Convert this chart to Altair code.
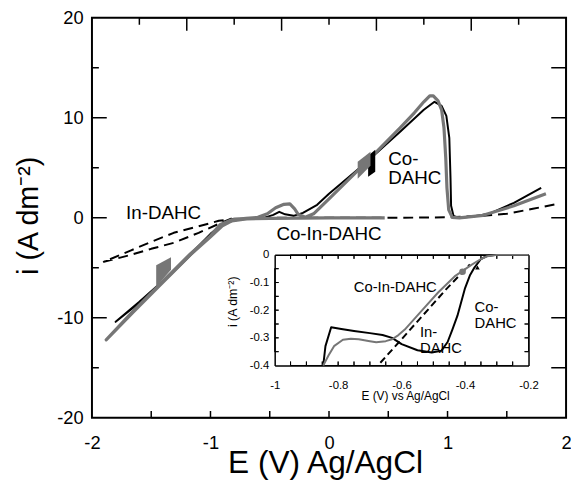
import altair as alt
import pandas as pd

FONT = "Liberation Sans"
W, H = 480, 405
GREY = "#767676"

# inset frame inside the main plot area (pixels from the plot's top-left corner)
IL, IR, IT, IB = 185, 442, 240, 352

# ---------------- main panel data ----------------
co_E = [-0.55, -0.75, -0.88, -1.0, -1.2, -1.4, -1.6, -1.8, -1.6, -1.4, -1.2, -1.0, -0.88, -0.75,
        -0.55, -0.47, -0.42, -0.37, -0.3, -0.22, -0.1, 0.0, 0.3, 0.6, 0.8, 0.89, 0.95, 0.99,
        1.015, 1.025, 1.03, 1.05, 1.1, 1.2, 1.35, 1.56, 1.79]
co_i = [-0.05, -0.15, -0.5, -1.7, -4.1, -6.4, -8.5, -10.4, -8.4, -6.3, -4.0, -1.6, -0.45, -0.1,
        0.0, 0.3, 0.6, 0.35, 0.2, 0.5, 1.3, 2.4, 5.4, 8.6, 10.8, 11.6, 11.2, 10.2,
        8.0, 4.0, 1.2, 0.2, 0.0, 0.1, 0.4, 1.5, 3.0]

coin_E = [0.47, 0.0, -0.5, -0.7, -0.82, -0.9, -1.0, -1.17, -1.44, -1.65, -1.88, -1.65, -1.44,
          -1.17, -1.0, -0.92, -0.82, -0.7, -0.6, -0.52, -0.45, -0.38, -0.33, -0.29, -0.26,
          -0.2, -0.13, 0.0, 0.3, 0.6, 0.72, 0.8, 0.85, 0.88, 0.92, 0.95, 0.97, 0.985, 0.995,
          1.01, 1.04, 1.1, 1.3, 1.56, 1.83]
coin_i = [0.0, 0.0, -0.05, -0.1, -0.3, -0.8, -1.9, -3.7, -6.9, -9.4, -12.2, -9.3, -6.8,
          -3.6, -1.8, -0.7, -0.2, -0.05, 0.05, 0.4, 1.0, 1.35, 1.4, 0.9, 0.35,
          0.05, 0.4, 1.9, 5.4, 9.0, 10.5, 11.6, 12.2, 12.2, 11.7, 10.8, 9.0, 6.0, 3.0,
          0.8, 0.05, 0.0, 0.25, 1.2, 2.4]

in_E = [-0.82, -0.93, -1.1, -1.31, -1.5, -1.67, -1.9, -1.67, -1.5, -1.31, -1.1, -0.93, -0.8,
        -0.5, 0.0, 0.5, 1.0, 1.3, 1.5, 1.72, 1.95]
in_i = [-0.05, -0.6, -1.5, -2.5, -3.1, -3.7, -4.4, -3.25, -2.4, -1.5, -0.85, -0.3, -0.1,
        0.0, 0.0, 0.0, 0.05, 0.2, 0.4, 0.9, 1.45]

# filled scan-direction markers
mk1_E = [-1.458, -1.333]
mk1_lo = [-6.9, -5.2]
mk1_hi = [-4.73, -3.94]
mk2_E = [0.33, 0.39]
mk2_lo = [4.1, 4.6]
mk2_hi = [6.2, 6.8]
mk3_E = [0.242, 0.35]
mk3_lo = [3.9, 5.2]
mk3_hi = [5.6, 6.6]

main_lbl_c = ["In-DAHC", "Co-In-DAHC"]
main_lbl_c_E = [-1.396, 0.0]
main_lbl_c_i = [0.49, -1.58]
main_lbl_l = ["Co-\nDAHC"]
main_lbl_l_E = [0.5]
main_lbl_l_i = [5.87]

# ticks of the main panel
m_xlabels = [-2, -1, 0, 1, 2]
m_ylabels = [-20, -10, 0, 10, 20]
m_bottom_ticks = [-1.5, -1.0, -0.5, 0.0, 0.5, 1.0, 1.5]
m_top_minor = [-1.6, -0.8, 0.0, 0.8, 1.6]
m_top_major = [-1.2, -0.4, 0.4, 1.2]
m_left_major = [-10.0, 0.0, 10.0]
m_left_minor = [-15.0, -5.0, 5.0, 15.0]
m_right_ticks = [-15.0, -10.0, -5.0, 0.0, 5.0, 10.0, 15.0]

# ---------------- inset data ----------------
ins_co_E = [-0.847, -0.84, -0.822, -0.79, -0.75, -0.70, -0.66, -0.63, -0.6, -0.55, -0.505,
            -0.475, -0.455, -0.44, -0.424, -0.40, -0.385, -0.37, -0.35, -0.33, -0.3, -0.2]
ins_co_i = [-0.40, -0.33, -0.262, -0.268, -0.275, -0.283, -0.29, -0.30, -0.323, -0.345, -0.353,
            -0.347, -0.315, -0.27, -0.22, -0.12, -0.075, -0.045, -0.015, -0.004, 0.0, 0.0]

ins_coin_E = [-0.847, -0.83, -0.813, -0.785, -0.76, -0.735, -0.7, -0.68, -0.65, -0.63, -0.61,
              -0.59, -0.535, -0.485, -0.433, -0.38, -0.35, -0.33, -0.3, -0.2]
ins_coin_i = [-0.4, -0.363, -0.33, -0.307, -0.303, -0.305, -0.312, -0.316, -0.312, -0.305, -0.29,
              -0.27, -0.2, -0.136, -0.078, -0.036, -0.015, -0.005, 0.0, 0.0]

ins_in_E = [-0.667, -0.6, -0.53, -0.46, -0.385]
ins_in_i = [-0.39, -0.305, -0.215, -0.125, -0.035]

ins_dot_E = [-0.408]
ins_dot_i = [-0.061]
ins_tri_E = [-0.361]
ins_tri_i = [-0.046]

ins_lbl_c = ["Co-In-DAHC"]
ins_lbl_c_E = [-0.62]
ins_lbl_c_i = [-0.118]
ins_lbl_l = ["In-\nDAHC", "Co-\nDAHC"]
ins_lbl_l_E = [-0.542, -0.37]
ins_lbl_l_i = [-0.279, -0.189]

i_xlabels = [-1, -0.8, -0.6, -0.4, -0.2]
i_ylabels = [-0.4, -0.3, -0.2, -0.1, 0]
i_xticks = [-0.95, -0.9, -0.85, -0.8, -0.75, -0.7, -0.65, -0.6, -0.55, -0.5, -0.45, -0.4,
            -0.35, -0.3, -0.25]
i_yticks = [-0.35, -0.3, -0.25, -0.2, -0.15, -0.1, -0.05]

MXD, MYD = [-2, 2], [-20, 20]
IXD, IYD = [-1, -0.2], [-0.4, 0]


def df(E, i):
    return pd.DataFrame({"E": E, "i": i})


def sc_mx():
    return alt.Scale(domain=[-2, 2], nice=False, zero=False, range=[0, W])


def sc_my():
    return alt.Scale(domain=[-20, 20], nice=False, zero=False, range=[H, 0])


def sc_ix():
    return alt.Scale(domain=[-1, -0.2], nice=False, zero=False, range=[IL, IR])


def sc_iy():
    return alt.Scale(domain=[-0.4, 0], nice=False, zero=False, range=[IB, IT])


def frame_axis(orient, offset):
    return alt.Axis(orient=orient, offset=offset, ticks=False, labels=False, domain=True,
                    domainColor="black", domainWidth=1.5, grid=False, title=None)


def line(data, xs, ys, color, width, dash=None, xaxis=None, yaxis=None, join="round"):
    kw = dict(color=color, strokeWidth=width, strokeJoin=join, strokeCap="butt")
    if dash is not None:
        kw["strokeDash"] = dash
    return alt.Chart(data).mark_line(**kw).encode(
        x=alt.X("E:Q", scale=xs, axis=xaxis),
        y=alt.Y("i:Q", scale=ys, axis=yaxis),
        order=alt.Order("k:Q"),
    ).transform_window(k="row_number()")


def ghost(data, xs, ys, xaxis, yaxis):
    return alt.Chart(data).mark_point(opacity=0).encode(
        x=alt.X("E:Q", scale=xs, axis=xaxis),
        y=alt.Y("i:Q", scale=ys, axis=yaxis),
    )


def tick_path(ticks, edge, horizontal):
    """Polyline running along a frame edge that dips inward at every tick.
    ticks: list of (value, inward length in data units)."""
    Es, Is = [], []
    for v, ln in sorted(ticks):
        if horizontal:
            Es += [v, v, v]
            Is += [edge, edge + ln, edge]
        else:
            Es += [edge, edge + ln, edge]
            Is += [v, v, v]
    return df(Es, Is)


def band(E, lo, hi, color):
    d = pd.DataFrame({"E": E, "lo": lo, "hi": hi})
    return alt.Chart(d).mark_area(color=color, opacity=1).encode(
        x=alt.X("E:Q", scale=sc_mx(), axis=None),
        y=alt.Y("lo:Q", scale=sc_my(), axis=None),
        y2="hi:Q",
    )


def texts(labels, E, i, xs, ys, size, align, lh):
    d = pd.DataFrame({"E": E, "i": i, "t": labels})
    return alt.Chart(d).mark_text(font=FONT, fontSize=size, align=align, baseline="middle",
                                  lineBreak="\n", lineHeight=lh, color="black").encode(
        x=alt.X("E:Q", scale=xs, axis=None),
        y=alt.Y("i:Q", scale=ys, axis=None),
        text="t:N",
    )


LBL = "datum.value + ''"

main_xaxis = alt.Axis(orient="bottom", values=m_xlabels, ticks=False, tickSize=0, domain=False,
                      grid=False, labelFont=FONT, labelFontSize=18.5, labelPadding=16,
                      labelColor="black", labelExpr=LBL, labelFlush=False,
                      title="E (V) Ag/AgCl", titleFont=FONT, titleFontSize=32,
                      titleFontWeight="normal", titleColor="black", titleX=236, titleY=55,
                      titleBaseline="alphabetic")
main_yaxis = alt.Axis(orient="left", values=m_ylabels, ticks=False, tickSize=0, domain=False,
                      grid=False, labelFont=FONT, labelFontSize=18.5, labelPadding=9,
                      labelColor="black", labelExpr=LBL, labelFlush=False,
                      title="i (A dm⁻²)", titleFont=FONT, titleFontSize=29,
                      titleFontWeight="normal", titleColor="black", titleX=-64, titleY=200,
                      titleAngle=270, titleBaseline="middle", titleAlign="center")

ins_xaxis = alt.Axis(orient="bottom", offset=IB - H, values=i_xlabels, ticks=False, tickSize=0,
                     domain=True, domainColor="black", domainWidth=1.5, grid=False,
                     labelFont=FONT, labelFontSize=11.5, labelPadding=14, labelColor="black",
                     labelExpr=LBL, labelFlush=False,
                     title="E (V) vs Ag/AgCl", titleFont=FONT, titleFontSize=12,
                     titleFontWeight="normal", titleColor="black", titleX=317, titleY=30,
                     titleBaseline="middle")
ins_yaxis = alt.Axis(orient="left", offset=-IL, values=i_ylabels, ticks=False, tickSize=0,
                     domain=True, domainColor="black", domainWidth=1.5, grid=False,
                     labelFont=FONT, labelFontSize=11.5, labelPadding=6, labelColor="black",
                     labelExpr=LBL, labelFlush=False,
                     title="i (A dm⁻²)", titleFont=FONT, titleFontSize=12.5,
                     titleFontWeight="normal", titleColor="black", titleX=-43, titleY=287,
                     titleAngle=270, titleBaseline="middle", titleAlign="center")

d_co = df(co_E, co_i)
d_coin = df(coin_E, coin_i)
d_in = df(in_E, in_i)
d_ico = df(ins_co_E, ins_co_i)
d_icoin = df(ins_coin_E, ins_coin_i)
d_iin = df(ins_in_E, ins_in_i)

# data units per pixel (tick lengths are given in pixels)
mx_pp = (MXD[1] - MXD[0]) / W
my_pp = (MYD[1] - MYD[0]) / H
ix_pp = (IXD[1] - IXD[0]) / (IR - IL)
iy_pp = (IYD[1] - IYD[0]) / (IB - IT)

p_bottom = tick_path([(v, 7 * my_pp) for v in m_bottom_ticks], MYD[0], True)
p_top = tick_path([(v, -7 * my_pp) for v in m_top_minor] +
                  [(v, -13 * my_pp) for v in m_top_major], MYD[1], True)
p_left = tick_path([(v, 15 * mx_pp) for v in m_left_major] +
                   [(v, 7 * mx_pp) for v in m_left_minor], MXD[0], False)
p_right = tick_path([(v, -15 * mx_pp) for v in m_right_ticks], MXD[1], False)

q_bottom = tick_path([(v, 4 * iy_pp) for v in i_xticks], IYD[0], True)
q_top = tick_path([(v, -4 * iy_pp) for v in i_xticks], IYD[1], True)
q_left = tick_path([(v, 4 * ix_pp) for v in i_yticks], IXD[0], False)
q_right = tick_path([(v, -4 * ix_pp) for v in i_yticks], IXD[1], False)

layers = [
    # main curves (with the labelled axes)
    line(d_co, sc_mx(), sc_my(), "black", 2, xaxis=main_xaxis, yaxis=main_yaxis),
    # main inward ticks
    line(p_bottom, sc_mx(), sc_my(), "black", 1.5, join="bevel"),
    line(p_top, sc_mx(), sc_my(), "black", 1.5, join="bevel"),
    line(p_left, sc_mx(), sc_my(), "black", 1.5, join="bevel"),
    line(p_right, sc_mx(), sc_my(), "black", 1.5, join="bevel"),
    line(d_in, sc_mx(), sc_my(), "black", 2, dash=[10, 6]),
    line(d_coin, sc_mx(), sc_my(), GREY, 3.2),
    band(mk1_E, mk1_lo, mk1_hi, GREY),
    band(mk2_E, mk2_lo, mk2_hi, "black"),
    band(mk3_E, mk3_lo, mk3_hi, GREY),
    texts(main_lbl_c, main_lbl_c_E, main_lbl_c_i, sc_mx(), sc_my(), 19, "center", 19),
    texts(main_lbl_l, main_lbl_l_E, main_lbl_l_i, sc_mx(), sc_my(), 19, "left", 19),
    # inset curves (with the labelled inset axes)
    line(d_ico, sc_ix(), sc_iy(), "black", 2, xaxis=ins_xaxis, yaxis=ins_yaxis),
    line(q_bottom, sc_ix(), sc_iy(), "black", 1, join="bevel"),
    line(q_top, sc_ix(), sc_iy(), "black", 1, join="bevel"),
    line(q_left, sc_ix(), sc_iy(), "black", 1, join="bevel"),
    line(q_right, sc_ix(), sc_iy(), "black", 1, join="bevel"),
    line(d_iin, sc_ix(), sc_iy(), "black", 2, dash=[7, 4]),
    line(d_icoin, sc_ix(), sc_iy(), GREY, 2),
    alt.Chart(df(ins_dot_E, ins_dot_i)).mark_point(filled=True, color=GREY, size=45, opacity=1).encode(
        x=alt.X("E:Q", scale=sc_ix(), axis=None), y=alt.Y("i:Q", scale=sc_iy(), axis=None)),
    alt.Chart(df(ins_tri_E, ins_tri_i)).mark_point(filled=True, color="black", size=22,
                                                   shape="triangle-up", opacity=1).encode(
        x=alt.X("E:Q", scale=sc_ix(), axis=None), y=alt.Y("i:Q", scale=sc_iy(), axis=None)),
    texts(ins_lbl_c, ins_lbl_c_E, ins_lbl_c_i, sc_ix(), sc_iy(), 15, "center", 16),
    texts(ins_lbl_l, ins_lbl_l_E, ins_lbl_l_i, sc_ix(), sc_iy(), 15, "left", 16),
    # inset frame (top and right sides)
    ghost(d_icoin, sc_ix(), sc_iy(), frame_axis("bottom", IT - H), frame_axis("left", -IR)),
]

chart = alt.layer(*layers).resolve_scale(
    x="independent", y="independent"
).properties(
    width=W, height=H,
    autosize=alt.AutoSizeParams(type="none"),
    padding={"left": 85, "top": 7, "right": 5, "bottom": 60},
    background="white",
).configure_view(stroke="black", strokeWidth=2)

chart.save("out.html", embed_options={"renderer": "svg", "actions": False})
